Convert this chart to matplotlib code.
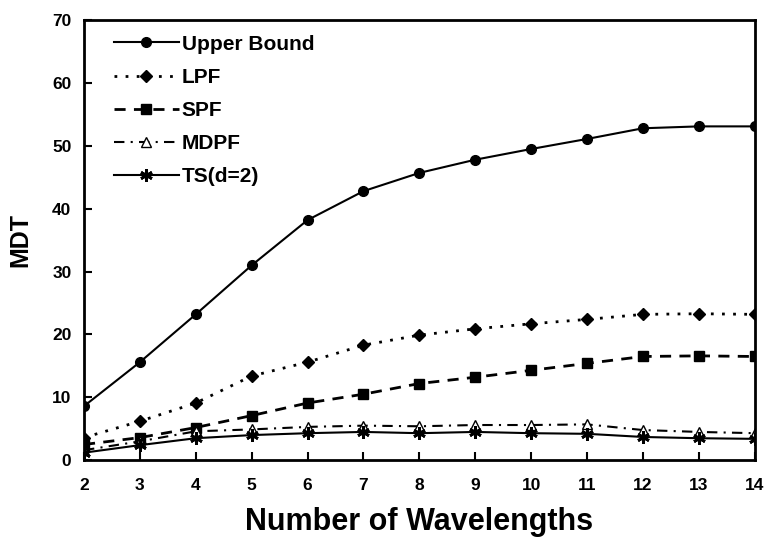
import matplotlib
matplotlib.use("Agg")
import matplotlib.pyplot as plt

plt.rcParams['font.family'] = ['Liberation Sans', 'DejaVu Sans']
plt.rcParams['font.weight'] = 'bold'

wavelengths = [2, 3, 4, 5, 6, 7, 8, 9, 10, 11, 12, 13, 14]
upper_bound = [8.6, 15.6, 23.2, 31.0, 38.2, 42.8, 45.7, 47.8, 49.5, 51.1, 52.8, 53.1, 53.1]
lpf = [3.6, 6.2, 9.1, 13.4, 15.6, 18.3, 19.9, 20.9, 21.7, 22.4, 23.2, 23.3, 23.2]
spf = [2.5, 3.6, 5.2, 7.1, 9.1, 10.5, 12.2, 13.2, 14.3, 15.4, 16.5, 16.6, 16.5]
mdpf = [1.6, 3.0, 4.6, 4.9, 5.3, 5.5, 5.4, 5.6, 5.6, 5.7, 4.8, 4.5, 4.3]
ts = [1.2, 2.4, 3.5, 4.0, 4.3, 4.5, 4.3, 4.5, 4.3, 4.2, 3.7, 3.5, 3.4]

fig = plt.figure(figsize=(7.67, 5.44), dpi=100)
ax = fig.add_axes([0.1095, 0.154, 0.8745, 0.809])

ax.plot(wavelengths, upper_bound, color='black', lw=1.5, linestyle='-',
        marker='o', markersize=7, label='Upper Bound')
ax.plot(wavelengths, lpf, color='black', lw=2, linestyle=(0, (1, 3)),
        marker='D', markersize=6, label='LPF')
ax.plot(wavelengths, spf, color='black', lw=2, linestyle=(0, (4, 3)),
        marker='s', markersize=7, label='SPF')
ax.plot(wavelengths, mdpf, color='black', lw=1.5, linestyle=(0, (5, 3, 1, 3)),
        marker='^', markersize=7, markerfacecolor='white', label='MDPF')
ax.plot(wavelengths, ts, color='black', lw=1.5, linestyle='-',
        marker=(6, 2, 0), markersize=9, markeredgewidth=2, label='TS(d=2)')

ax.set_xlim(2, 14)
ax.set_ylim(0, 70)
ax.set_xticks(wavelengths)
ax.set_yticks(range(0, 71, 10))
ax.tick_params(direction='in', length=6, width=1.5, labelsize=12.5)
ax.tick_params(axis='x', pad=13)
ax.tick_params(axis='y', pad=9)
for lbl in ax.get_xticklabels() + ax.get_yticklabels():
    lbl.set_fontweight('bold')
for s in ax.spines.values():
    s.set_linewidth(2)

ax.set_xlabel('Number of Wavelengths', fontsize=22, fontweight='bold', labelpad=10)
ax.set_ylabel('MDT', fontsize=18, fontweight='bold', labelpad=14)

ax.legend(loc='upper left', bbox_to_anchor=(0.023, 1.0), frameon=False,
          fontsize=15, handlelength=3.1, handletextpad=0.15,
          labelspacing=0.68, borderaxespad=0.3)

fig.savefig('out.png', dpi=100)
